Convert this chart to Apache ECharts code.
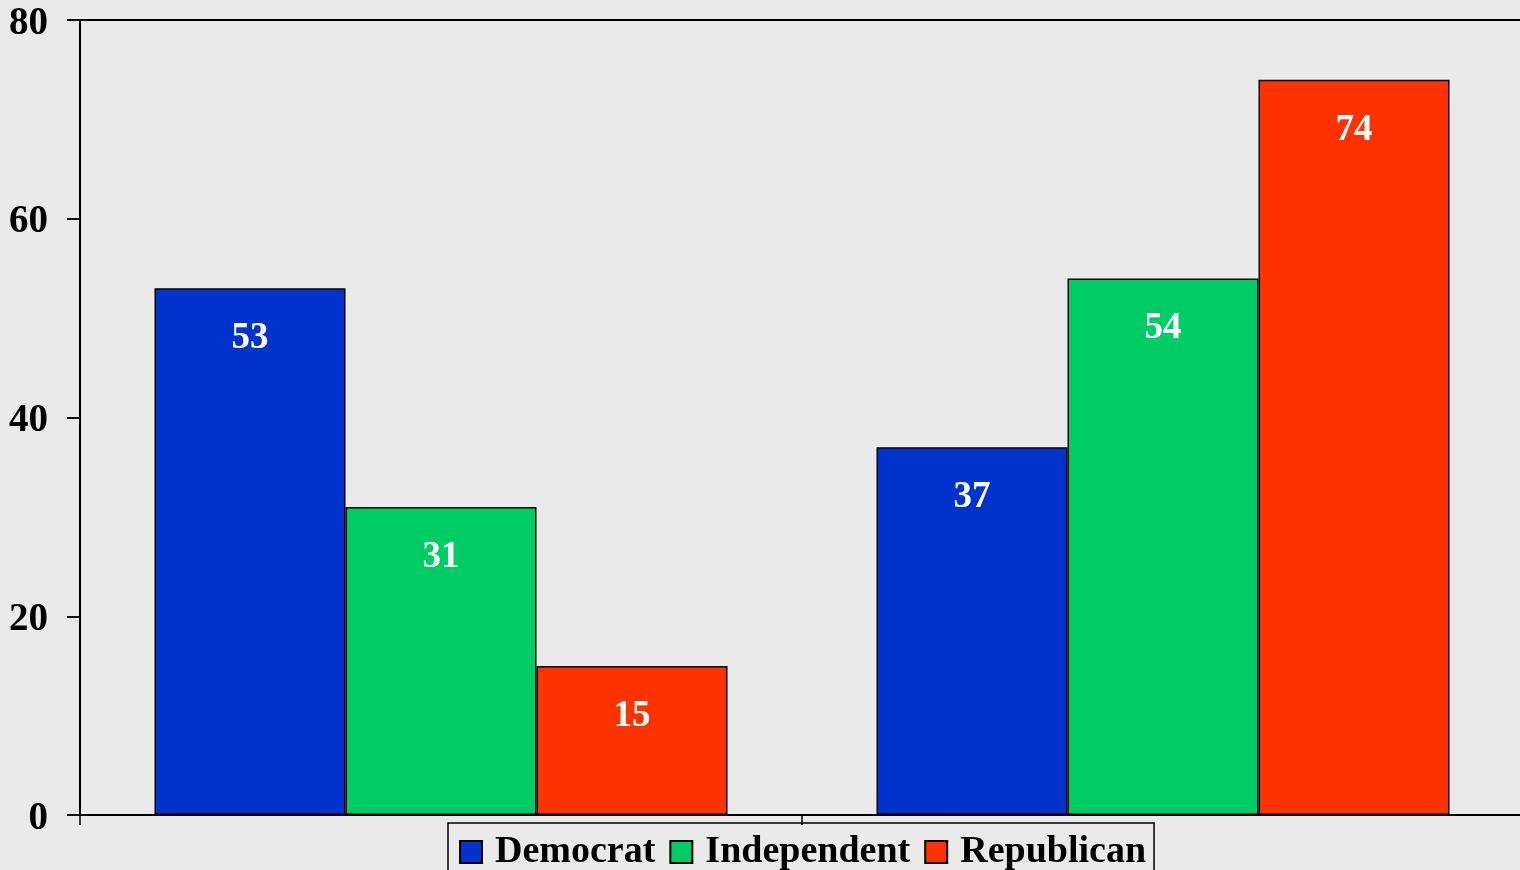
<!DOCTYPE html>
<html>
<head>
<meta charset="utf-8">
<script src="https://cdn.jsdelivr.net/npm/echarts@6/dist/echarts.min.js"></script>
<style>
  html, body { margin: 0; padding: 0; background: #eaeaea; }
  #main { width: 1520px; height: 870px; }
</style>
</head>
<body>
<div id="main"></div>
<script>
// categories (no labels shown on the axis in the original)
var categories = ['Group 1', 'Group 2'];
var democrat = [53, 37];
var independent = [31, 54];
var republican = [15, 74];
var yTicks = [0, 20, 40, 60, 80];

var myChart = echarts.init(document.getElementById('main'));
var fontFamily = '"Liberation Serif", "Times New Roman", serif';

function makeSeries(name, data, color) {
  return {
    name: name,
    type: 'bar',
    data: data,
    barWidth: 191,
    barGap: '0%',
    itemStyle: {
      color: color,
      borderColor: '#000',
      borderWidth: 1.5
    },
    label: {
      show: true,
      position: 'insideTop',
      distance: 32,
      color: '#fff',
      fontFamily: fontFamily,
      fontWeight: 'bold',
      fontSize: 37
    }
  };
}

var option = {
  backgroundColor: '#eaeaea',
  animation: false,
  grid: {
    left: 80,
    top: 20,
    width: 1444,
    height: 795,
    outerBoundsMode: 'none',
    show: true,
    backgroundColor: 'transparent',
    borderColor: '#000',
    borderWidth: 2
  },
  legend: {
    left: 448,
    top: 823,
    orient: 'horizontal',
    icon: 'rect',
    itemWidth: 22,
    itemHeight: 22,
    itemGap: 14,
    borderColor: '#000',
    borderWidth: 1.5,
    padding: [10, 8, 10, 11],
    textStyle: {
      fontFamily: fontFamily,
      fontWeight: 'bold',
      fontSize: 38,
      color: '#000',
      padding: [0, 0, 0, 8]
    },
    data: ['Democrat', 'Independent', 'Republican']
  },
  xAxis: {
    type: 'category',
    data: categories,
    axisLine: { lineStyle: { color: '#000', width: 2 } },
    axisTick: { show: true, length: 10, lineStyle: { color: '#000', width: 1.5 } },
    axisLabel: { show: false },
    splitLine: { show: false }
  },
  yAxis: {
    type: 'value',
    min: yTicks[0],
    max: yTicks[yTicks.length - 1],
    interval: 20,
    axisLine: { show: true, lineStyle: { color: '#000', width: 2 } },
    axisTick: { show: true, length: 13, lineStyle: { color: '#000', width: 2 } },
    splitLine: { show: false },
    axisLabel: {
      margin: 32,
      formatter: '{v|{value}}',
      rich: {
        v: {
          color: '#000',
          fontFamily: fontFamily,
          fontWeight: 'bold',
          fontSize: 39,
          padding: [7, 0, 0, 0]
        }
      }
    }
  },
  series: [
    makeSeries('Democrat', democrat, '#0033cc'),
    makeSeries('Independent', independent, '#00cc66'),
    makeSeries('Republican', republican, '#ff3300')
  ]
};

myChart.setOption(option);
</script>
</body>
</html>
